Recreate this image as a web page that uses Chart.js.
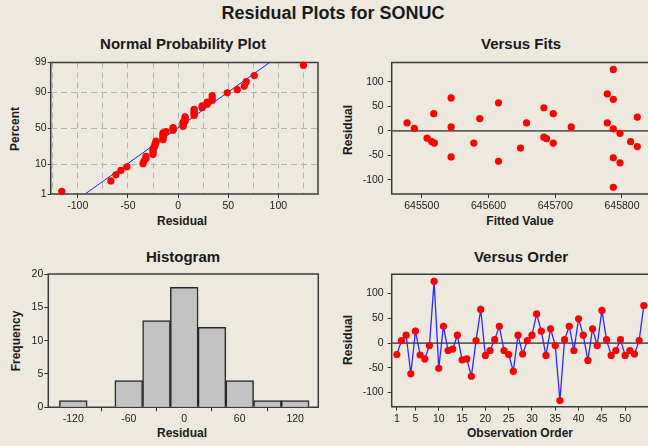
<!DOCTYPE html>
<html><head><meta charset="utf-8">
<script src="https://cdn.jsdelivr.net/npm/chart.js@4"></script>
<style>
html,body{margin:0;padding:0}
body{background:#EDE9DF;width:648px;height:446px;overflow:hidden;position:relative;font-family:"Liberation Sans",Arial,sans-serif}
.t{position:absolute;font-weight:bold;color:#1a1a1a;white-space:nowrap;line-height:1;transform:translate(-50%,-50%)}
.r{transform:translate(-50%,-50%) rotate(-90deg)}
canvas{position:absolute}
</style></head><body>
<div class="t" style="left:333px;top:13px;font-size:18px">Residual Plots for SONUC</div>
<div class="t" style="left:183px;top:43px;font-size:15px">Normal Probability Plot</div>
<div class="t" style="left:521px;top:43px;font-size:15px">Versus Fits</div>
<div class="t" style="left:183px;top:256px;font-size:15px">Histogram</div>
<div class="t" style="left:521px;top:256px;font-size:15px">Versus Order</div>

<div class="t r" style="left:15px;top:129px;font-size:12px">Percent</div>
<div class="t" style="left:182px;top:221px;font-size:12px">Residual</div>
<div class="t r" style="left:348px;top:130px;font-size:12px">Residual</div>
<div class="t" style="left:520px;top:221px;font-size:12px">Fitted Value</div>
<div class="t r" style="left:16px;top:341px;font-size:12px">Frequency</div>
<div class="t" style="left:182px;top:433px;font-size:12px">Residual</div>
<div class="t r" style="left:348px;top:340px;font-size:12px">Residual</div>
<div class="t" style="left:520px;top:433px;font-size:12px">Observation Order</div>

<canvas id="c1" width="330" height="180" style="left:0;top:52px"></canvas>
<canvas id="c2" width="318" height="180" style="left:330px;top:52px"></canvas>
<canvas id="c3" width="330" height="180" style="left:0;top:264px"></canvas>
<canvas id="c4" width="318" height="180" style="left:330px;top:264px"></canvas>
<script>
// ---------------- data ----------------
const observationOrder = [1,2,3,4,5,6,7,8,9,10,11,12,13,14,15,16,17,18,19,20,21,22,23,24,25,26,27,
  28,29,30,31,32,33,34,35,36,37,38,39,40,41,42,43,44,45,46,47,48,49,50,51,52,53,54];
const residuals = [-23,5,16,-62,24,-24,-32,-5,125,-51,34,-15,-12,16,-34,-32,-67,5,68,-25,
  -15,7,34,-15,-23,-57,16,-22,5,16,59,24,-25,29,-5,-116,7,34,-15,49,16,-35,29,-5,66,7,-25,-15,7,-25,-15,-22,5,76];
const fittedValues = [645478,645489,645508,645515,645519,645518,645544,645544,645544,645578,645587,645615,645615,
  645648,645657,645683,645683,645687,645697,645697,645724,645778,645778,645787,645787,645787,645787,645787,
  645797,645797,645813,645823,645823];
const fitResiduals = [16,5,-15,-22,-25,35,67,8,-53,-25,25,57,-62,-35,16,47,-13,-16,35,-25,8,75,16,125,64,4,-55,-115,
  -5,-65,-22,28,-32];
const binCenters = [-120,-90,-60,-30,0,30,60,90,120];
const binCounts = [1,0,4,13,18,12,4,1,1];
const percentTicks = [1,10,50,90,99];
const residualTicksNP = [-125,-100,-75,-50,-25,0,25,50,75,100,125];
const residualTicks = [-100,-50,0,50,100];
const fittedTicks = [645500,645600,645700,645800];
const histXTicks = [-120,-60,0,60,120];
const freqTicks = [0,5,10,15,20];
const orderTicks = [1,5,10,15,20,25,30,35,40,45,50];

// ---------------- helpers ----------------
function qnorm(p){
  const a=[-3.969683028665376e+01,2.209460984245205e+02,-2.759285104469687e+02,1.383577518672690e+02,-3.066479806614716e+01,2.506628277459239e+00];
  const b=[-5.447609879822406e+01,1.615858368580409e+02,-1.556989798598866e+02,6.680131188771972e+01,-1.328068155288572e+01];
  const c=[-7.784894002430293e-03,-3.223964580411365e-01,-2.400758277161838e+00,-2.549732539343734e+00,4.374664141464968e+00,2.938163982698783e+00];
  const d=[7.784695709041462e-03,3.224671290700398e-01,2.445134137142996e+00,3.754408661907416e+00];
  const pl=0.02425, ph=1-pl; let q,r;
  if(p<pl){q=Math.sqrt(-2*Math.log(p));return (((((c[0]*q+c[1])*q+c[2])*q+c[3])*q+c[4])*q+c[5])/((((d[0]*q+d[1])*q+d[2])*q+d[3])*q+1);}
  if(p>ph){q=Math.sqrt(-2*Math.log(1-p));return -(((((c[0]*q+c[1])*q+c[2])*q+c[3])*q+c[4])*q+c[5])/((((d[0]*q+d[1])*q+d[2])*q+d[3])*q+1);}
  q=p-0.5;r=q*q;return (((((a[0]*r+a[1])*r+a[2])*r+a[3])*r+a[4])*r+a[5])*q/(((((b[0]*r+b[1])*r+b[2])*r+b[3])*r+b[4])*r+1);
}
const n = residuals.length;
const sorted = residuals.slice().sort((a,b)=>a-b);
const npPoints = sorted.map((v,i)=>({x:v, y:qnorm((i+1-0.3)/(n+0.4))}));
const mean = residuals.reduce((s,v)=>s+v,0)/n;
const sd = Math.sqrt(residuals.reduce((s,v)=>s+(v-mean)*(v-mean),0)/(n-1));
const zLo = qnorm(0.01), zHi = qnorm(0.99);
const fitLine = [{x:mean+sd*zLo,y:zLo},{x:mean+sd*zHi,y:zHi}];

Chart.defaults.font.family = '"Liberation Sans", Arial, sans-serif';
Chart.defaults.font.size = 10.5;
Chart.defaults.color = '#222';
Chart.defaults.animation = false;

const frame = {id:'frame', beforeDatasetsDraw(chart, args, opts){
  const {ctx, chartArea:a} = chart;
  ctx.save(); ctx.strokeStyle = '#3c3c3c'; ctx.lineWidth = 1.5; ctx.beginPath();
  if(opts.open){ ctx.moveTo(a.right+5,a.top); ctx.lineTo(a.left,a.top); ctx.lineTo(a.left,a.bottom); ctx.lineTo(a.right+5,a.bottom); }
  else ctx.rect(a.left,a.top,a.right-a.left,a.bottom-a.top);
  ctx.stroke();
  if(opts.zero){
    const y = chart.scales.y.getPixelForValue(0);
    ctx.strokeStyle = '#5e5e5e'; ctx.lineWidth = 1.6; ctx.beginPath();
    ctx.moveTo(a.left,y); ctx.lineTo(a.right,y); ctx.stroke();
  }
  ctx.restore();
}};
const setTicks = arr => s => { s.ticks = arr.map(v=>({value:v})); };
const fixW = w => s => { s.width = w; };
const fixH = h => s => { s.height = h; };
const noBorder = {display:false};
const commonOpts = (pad) => ({responsive:false, animation:false, layout:{padding:pad, autoPadding:false},
  plugins:{legend:{display:false}, tooltip:{enabled:false}}});

// -------- Normal probability plot --------
new Chart(document.getElementById('c1'), {
  type:'scatter',
  data:{datasets:[
    {data:npPoints, pointRadius:3.6, pointBackgroundColor:'#ff0000', pointBorderWidth:0, clip:false, order:1},
    {data:fitLine, showLine:true, borderColor:'#2020ee', borderWidth:1, pointRadius:0, order:2}
  ]},
  options:Object.assign(commonOpts({top:10.5,right:12,left:0,bottom:0}),{
    plugins:{legend:{display:false},tooltip:{enabled:false},frame:{}},
    scales:{
      x:{type:'linear', min:-127, max:139.5, afterBuildTicks:setTicks(residualTicksNP), afterFit:fixH(38),
        border:{display:false, dash:[6,4]},
        grid:{color:'#b4b4b4', lineWidth:1, tickLength:4, tickBorderDash:[],
          tickColor:c=>(c.tick && c.tick.value%50===0)?'#333':'rgba(0,0,0,0)'},
        ticks:{autoSkip:false, maxRotation:0, padding:2, callback:v=>(v%50===0?String(v):'')}},
      y:{type:'linear', min:zLo, max:zHi, afterBuildTicks:setTicks(percentTicks.map(p=>qnorm(p/100))), afterFit:fixW(50.7),
        border:{display:false, dash:[6,4]},
        grid:{color:c=>(c.index===0||c.index===4)?'rgba(0,0,0,0)':'#b4b4b4', lineWidth:1, tickLength:3, tickBorderDash:[], tickColor:'#333'},
        ticks:{autoSkip:false, padding:1, callback:(v,i)=>String(percentTicks[i])}}
    }}),
  plugins:[frame]
});

// -------- Versus fits --------
new Chart(document.getElementById('c2'), {
  type:'scatter',
  data:{datasets:[{data:fittedValues.map((f,i)=>({x:f,y:fitResiduals[i]})), pointRadius:3.6, pointBackgroundColor:'#ff0000', pointBorderWidth:0, clip:false}]},
  options:Object.assign(commonOpts({top:10.5,right:0,left:0,bottom:0}),{
    plugins:{legend:{display:false},tooltip:{enabled:false},frame:{open:true, zero:true}},
    scales:{
      x:{type:'linear', min:645455, max:645839, afterBuildTicks:setTicks(fittedTicks), afterFit:fixH(38),
        border:noBorder, grid:{drawOnChartArea:false, tickLength:4, tickColor:'#333'},
        ticks:{autoSkip:false, maxRotation:0, padding:2, callback:v=>String(v)}},
      y:{type:'linear', min:-128.5, max:139, afterBuildTicks:setTicks(residualTicks), afterFit:fixW(61.7),
        border:noBorder, grid:{drawOnChartArea:false, tickLength:4, tickColor:'#333'},
        ticks:{autoSkip:false, padding:4}}
    }}),
  plugins:[frame]
});

// -------- Histogram --------
new Chart(document.getElementById('c3'), {
  type:'bar',
  data:{datasets:[{data:binCenters.map((c,i)=>({x:c,y:binCounts[i]})), backgroundColor:'#c2c2c2', borderColor:'#2a2a2a', borderWidth:1.5,
    barPercentage:1, categoryPercentage:1}]},
  options:Object.assign(commonOpts({top:10,right:11.7,left:0,bottom:0}),{
    plugins:{legend:{display:false},tooltip:{enabled:false},frame:{}},
    scales:{
      x:{type:'linear', offset:false, min:-147, max:145, afterBuildTicks:setTicks(histXTicks), afterFit:fixH(36.7),
        border:noBorder, grid:{drawOnChartArea:false, tickLength:4, tickColor:'#333'},
        ticks:{autoSkip:false, maxRotation:0, padding:2}},
      y:{type:'linear', min:0, max:20, afterBuildTicks:setTicks(freqTicks), afterFit:fixW(48.3),
        border:noBorder, grid:{drawOnChartArea:false, tickLength:4, tickColor:'#333'},
        ticks:{autoSkip:false, padding:1}}
    }}),
  plugins:[frame]
});

// -------- Versus order --------
new Chart(document.getElementById('c4'), {
  type:'scatter',
  data:{datasets:[{data:observationOrder.map((o,i)=>({x:o,y:residuals[i]})), showLine:true, borderColor:'#2a2aff', borderWidth:1.3,
    pointRadius:3.6, pointBackgroundColor:'#ff0000', pointBorderWidth:0, clip:false}]},
  options:Object.assign(commonOpts({top:10,right:0,left:0,bottom:0}),{
    plugins:{legend:{display:false},tooltip:{enabled:false},frame:{open:true, zero:true}},
    scales:{
      x:{type:'linear', min:-0.1, max:54.9, afterBuildTicks:setTicks(orderTicks), afterFit:fixH(37.3),
        border:noBorder, grid:{drawOnChartArea:false, tickLength:4, tickColor:'#333'},
        ticks:{autoSkip:false, maxRotation:0, padding:2}},
      y:{type:'linear', min:-128.5, max:139, afterBuildTicks:setTicks(residualTicks), afterFit:fixW(61.7),
        border:noBorder, grid:{drawOnChartArea:false, tickLength:4, tickColor:'#333'},
        ticks:{autoSkip:false, padding:4}}
    }}),
  plugins:[frame]
});
</script>
</body></html>
